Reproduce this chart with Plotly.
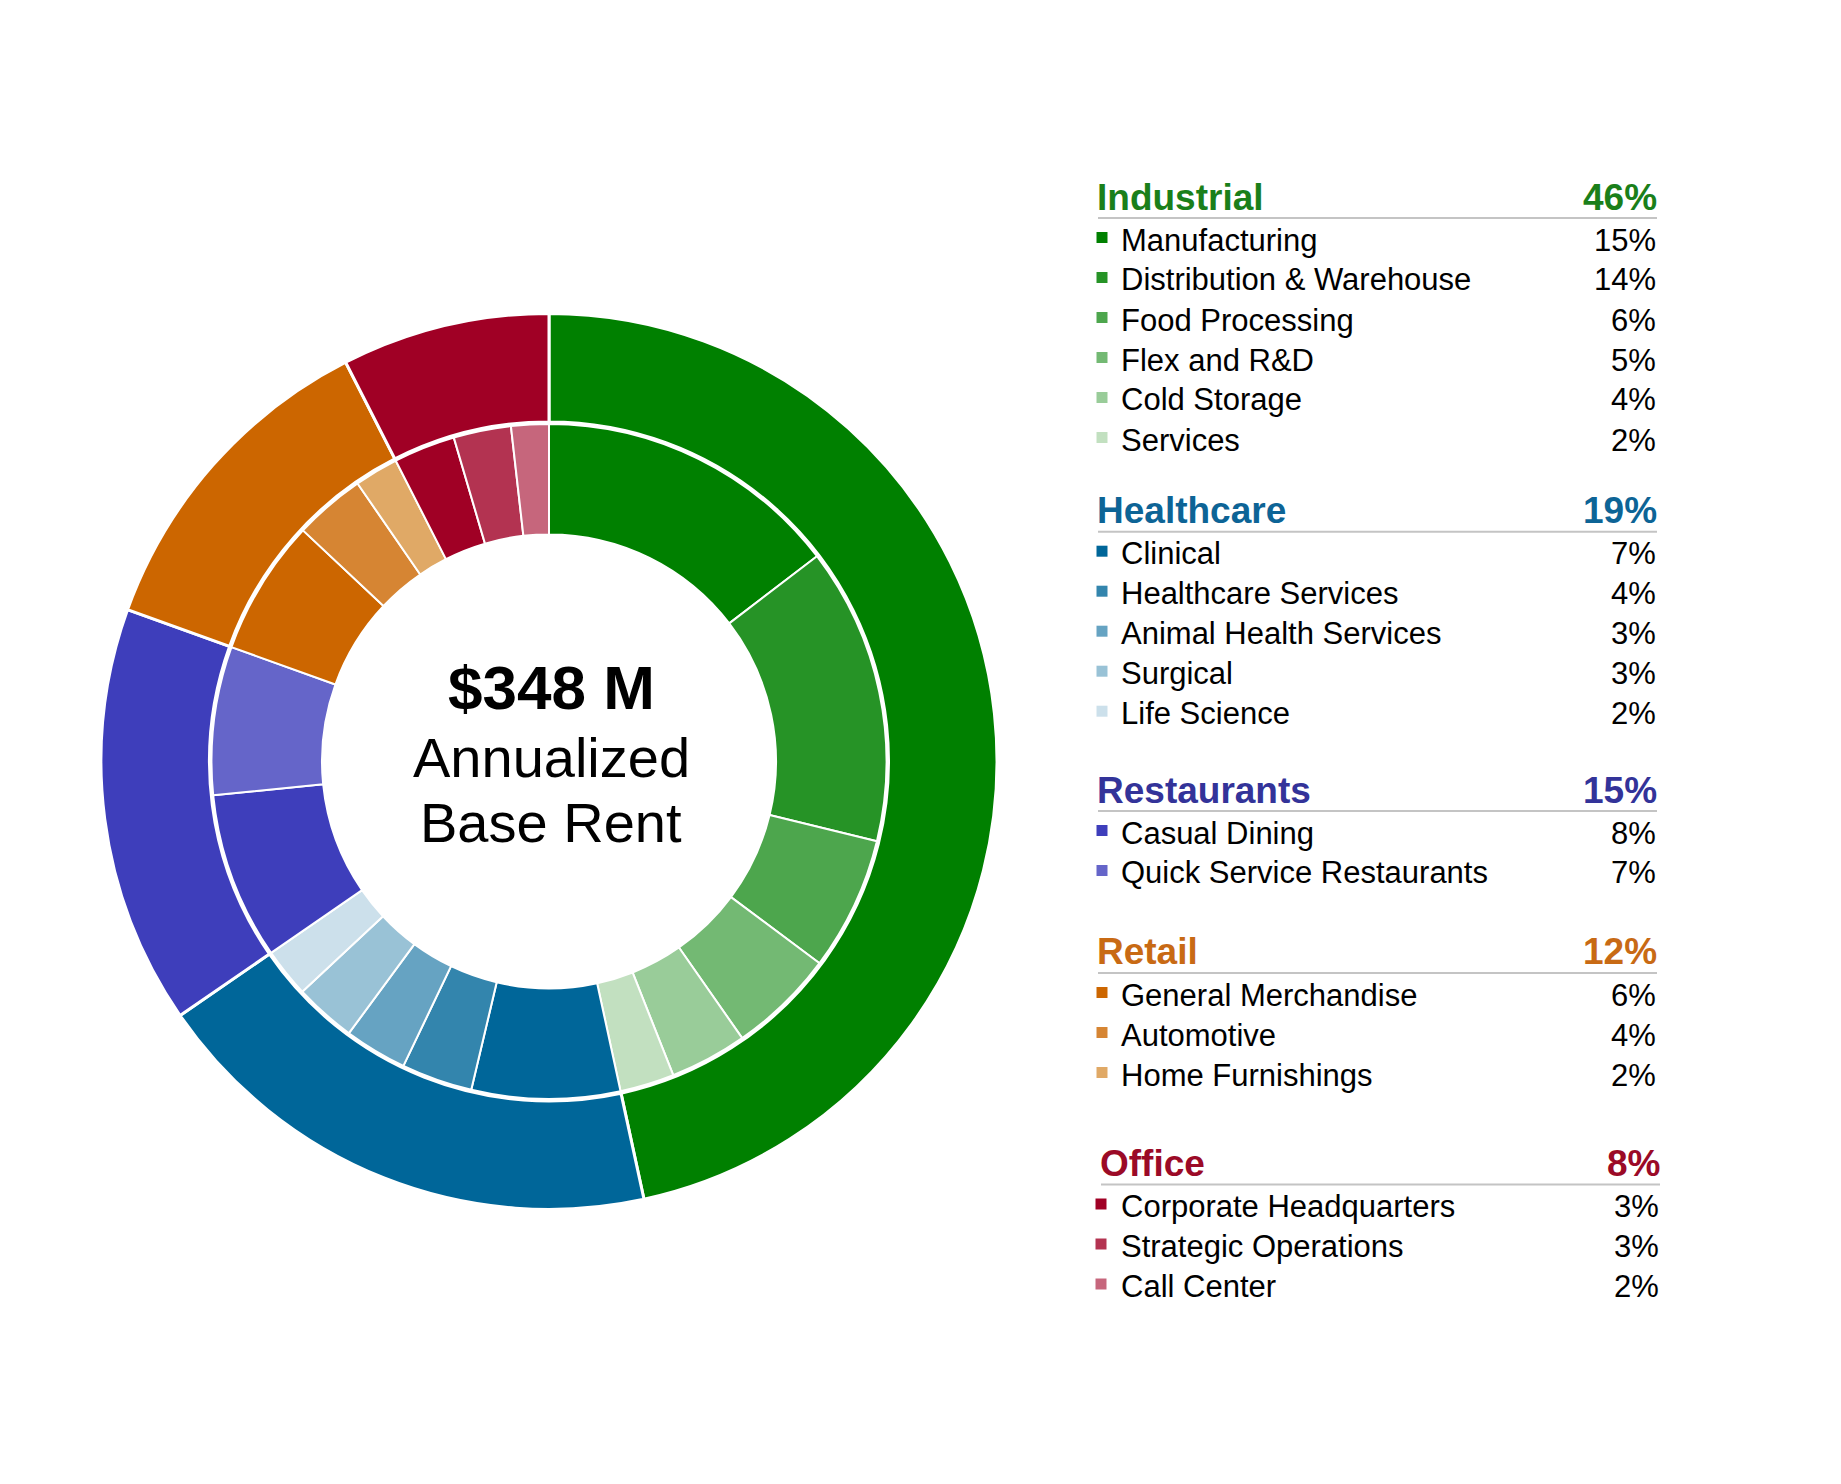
import plotly.graph_objects as go

# ---------------- data ----------------
groups = ["Industrial", "Healthcare", "Restaurants", "Retail", "Office"]
group_values = [46.6, 18.8, 15.1, 12.0, 7.5]          # slice sizes read from the rings
group_pct_labels = ["46%", "19%", "15%", "12%", "8%"]  # printed legend values

industrial_subs = ["Manufacturing", "Distribution & Warehouse", "Food Processing",
                   "Flex and R&D", "Cold Storage", "Services"]
industrial_vals = [14.6, 14.2, 6.4, 5.1, 3.7, 2.6]
industrial_pcts = ["15%", "14%", "6%", "5%", "4%", "2%"]

healthcare_subs = ["Clinical", "Healthcare Services", "Animal Health Services",
                   "Surgical", "Life Science"]
healthcare_vals = [7.1, 3.4, 3.0, 2.95, 2.35]
healthcare_pcts = ["7%", "4%", "3%", "3%", "2%"]

restaurants_subs = ["Casual Dining", "Quick Service Restaurants"]
restaurants_vals = [8.0, 7.1]
restaurants_pcts = ["8%", "7%"]

retail_subs = ["General Merchandise", "Automotive", "Home Furnishings"]
retail_vals = [6.5, 3.4, 2.1]
retail_pcts = ["6%", "4%", "2%"]

office_subs = ["Corporate Headquarters", "Strategic Operations", "Call Center"]
office_vals = [2.95, 2.75, 1.8]
office_pcts = ["3%", "3%", "2%"]

total_label = "$348 M"
center_lines = ["Annualized", "Base Rent"]

# ---------------- styles ----------------
group_colors = ["#008000", "#006699", "#3e3ebb", "#cc6600", "#a00025"]
group_text_colors = ["#1a7f1a", "#0d6496", "#333399", "#c86a14", "#9b0a27"]
sub_colors = [
    ["#008000", "#269326", "#4da64d", "#73b973", "#99cc99", "#c2e0c0"],
    ["#006699", "#3385ad", "#66a3c2", "#99c2d6", "#cce0eb"],
    ["#3e3ebb", "#6565c9"],
    ["#cc6600", "#d68533", "#e0a966"],
    ["#a00025", "#b33351", "#c6667c"],
]
FONT = "Arial, Liberation Sans, sans-serif"
OFF = 8  # page body margin
W, H = 1841 - 2 * OFF, 1484 - 2 * OFF

sub_names = [industrial_subs, healthcare_subs, restaurants_subs, retail_subs, office_subs]
sub_vals = [industrial_vals, healthcare_vals, restaurants_vals, retail_vals, office_vals]
sub_pcts = [industrial_pcts, healthcare_pcts, restaurants_pcts, retail_pcts, office_pcts]

inner_labels = [n for g in sub_names for n in g]
inner_values = [v for g in sub_vals for v in g]
inner_colors = [c for g in sub_colors for c in g]


def px_x(x):
    return (x - OFF) / W


def px_y(y):
    return 1 - (y - OFF) / H


cx, cy = 549, 761.4
r_out, r_mid_out, r_in, r_hole = 448, 339.5, 337.5, 227

fig = go.Figure()
fig.add_trace(go.Pie(
    labels=groups, values=group_values, sort=False, direction="clockwise",
    rotation=0, hole=r_mid_out / r_out,
    marker=dict(colors=group_colors, line=dict(color="white", width=3)),
    textinfo="none", hoverinfo="label", showlegend=False,
    domain=dict(x=[px_x(cx - r_out), px_x(cx + r_out)],
                y=[px_y(cy + r_out), px_y(cy - r_out)]),
))
fig.add_trace(go.Pie(
    labels=inner_labels, values=inner_values, sort=False, direction="clockwise",
    rotation=0, hole=r_hole / r_in,
    marker=dict(colors=inner_colors, line=dict(color="white", width=2)),
    textinfo="none", hoverinfo="label", showlegend=False,
    domain=dict(x=[px_x(cx - r_in), px_x(cx + r_in)],
                y=[px_y(cy + r_in), px_y(cy - r_in)]),
))

annotations = []
shapes = []

# center text
annotations.append(dict(x=px_x(551), y=px_y(688), xref="paper", yref="paper",
                        text="<b>%s</b>" % total_label, showarrow=False,
                        xanchor="center", yanchor="middle", borderpad=0, borderwidth=0,
                        font=dict(family=FONT, size=62, color="black")))
for i, t in enumerate(center_lines):
    annotations.append(dict(x=px_x(551), y=px_y(757.5 + 65 * i), xref="paper", yref="paper",
                            text=t, showarrow=False, xanchor="center", yanchor="middle",
                            borderpad=0, borderwidth=0,
                            font=dict(family=FONT, size=56, color="black")))

# legend blocks
header_y = [197, 510.7, 790, 952, 1163.5]
x_off = [0, 0, 0, 0, 3]
for gi, g in enumerate(groups):
    hy = header_y[gi]
    dx = x_off[gi]
    left = 1097 + dx
    right_h = 1657 + dx
    right_i = 1656 + dx
    annotations.append(dict(x=px_x(left), y=px_y(hy), xref="paper", yref="paper",
                            text="<b>%s</b>" % g, showarrow=False, xanchor="left",
                            yanchor="middle", borderpad=0, borderwidth=0,
                            font=dict(family=FONT, size=37, color=group_text_colors[gi])))
    annotations.append(dict(x=px_x(right_h), y=px_y(hy), xref="paper", yref="paper",
                            text="<b>%s</b>" % group_pct_labels[gi], showarrow=False,
                            xanchor="right", yanchor="middle", borderpad=0, borderwidth=0,
                            font=dict(family=FONT, size=37, color=group_text_colors[gi])))
    ly = hy + 21
    shapes.append(dict(type="line", xref="paper", yref="paper",
                       x0=px_x(left + 1), x1=px_x(right_h), y0=px_y(ly), y1=px_y(ly),
                       line=dict(color="#c4c4c4", width=2)))
    for si, (name, pct) in enumerate(zip(sub_names[gi], sub_pcts[gi])):
        ry = ly + 22 + 40 * si
        sq = 5.5
        sx = 1102 + (dx - 4 if gi == 4 else 0)
        shapes.append(dict(type="rect", xref="paper", yref="paper",
                           x0=px_x(sx - sq), x1=px_x(sx + sq),
                           y0=px_y(ry - 2.5 + sq), y1=px_y(ry - 2.5 - sq),
                           fillcolor=sub_colors[gi][si], line=dict(width=0)))
        annotations.append(dict(x=px_x(1121 + (dx - 3 if gi == 4 else 0)),
                                y=px_y(ry), xref="paper", yref="paper",
                                text=name, showarrow=False, xanchor="left", yanchor="middle",
                                borderpad=0, borderwidth=0,
                                font=dict(family=FONT, size=31, color="black")))
        annotations.append(dict(x=px_x(right_i), y=px_y(ry), xref="paper", yref="paper",
                                text=pct, showarrow=False, xanchor="right",
                                yanchor="middle", borderpad=0, borderwidth=0,
                                font=dict(family=FONT, size=31, color="black")))

fig.update_layout(
    width=W, height=H, margin=dict(l=0, r=0, t=0, b=0),
    paper_bgcolor="white", plot_bgcolor="white",
    annotations=annotations, shapes=shapes, showlegend=False,
)
fig.write_html("out.html")
